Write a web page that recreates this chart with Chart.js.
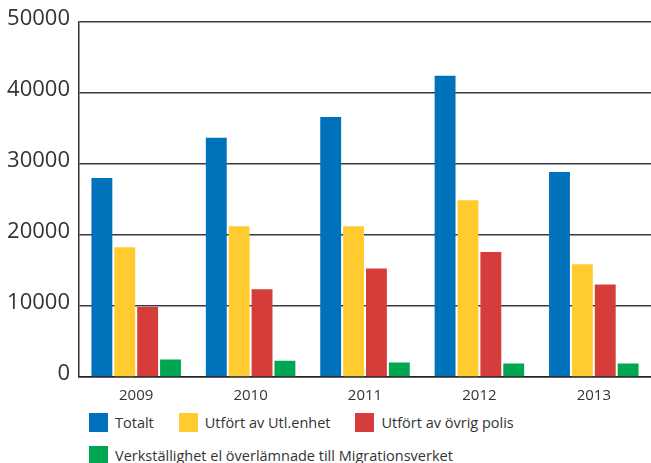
<!DOCTYPE html>
<html>
<head>
<meta charset="utf-8">
<script src="https://cdn.jsdelivr.net/npm/chart.js@4"></script>
<style>
  body { margin: 0; background: #fff; font-family: "Open Sans", sans-serif; }
  #wrap { position: relative; width: 651px; height: 407px; }
  #legend { position: absolute; left: 89px; top: 413px; color: #333; font-size: 14.5px; }
  .row { display: flex; align-items: center; height: 19px; margin-bottom: 14px; }
  .item { display: flex; align-items: center; margin-right: 25px; }
  .box { width: 19px; height: 19px; margin-right: 7px; }
</style>
</head>
<body>
<div id="wrap"><canvas id="deportChart"></canvas></div>
<div id="legend"></div>
<script>
const years = ['2009', '2010', '2011', '2012', '2013'];
const totalt = [28050, 33700, 36650, 42450, 28900];
const utlEnhet = [18300, 21250, 21250, 24900, 15900];
const ovrigPolis = [9850, 12350, 15300, 17600, 13050];
const migrationsverket = [2450, 2300, 2050, 1900, 1900];
const seriesNames = ['Totalt', 'Utfört av Utl.enhet', 'Utfört av övrig polis',
    'Verkställighet el överlämnade till Migrationsverket'];
const seriesColors = ['#0072bc', '#ffcb2f', '#d63c3a', '#00a651'];

const seriesData = [totalt, utlEnhet, ovrigPolis, migrationsverket];

const ctx = document.getElementById('deportChart').getContext('2d');
const deportChart = new Chart(ctx, {
    type: 'bar',
    data: {
        labels: years,
        datasets: seriesData.map((d, i) => ({
            label: seriesNames[i],
            data: d,
            backgroundColor: seriesColors[i],
            categoryPercentage: 0.8,
            barPercentage: 0.913
        }))
    },
    options: {
        responsive: true,
        maintainAspectRatio: false,
        animation: false,
        layout: { padding: { top: 16, right: 0, bottom: 0, left: 0 } },
        plugins: {
            legend: { display: false },
            tooltip: { enabled: false }
        },
        scales: {
            x: {
                grid: { display: false },
                border: { color: '#222', width: 1.5 },
                ticks: { color: '#333', font: { family: 'Open Sans', size: 15 }, padding: 2 }
            },
            y: {
                min: 0,
                max: 50000,
                afterFit: (scale) => { scale.width = 79; },
                grid: { color: '#3a3a3a', lineWidth: 1.5, drawTicks: false },
                border: { color: '#333', width: 1.5 },
                ticks: {
                    stepSize: 10000,
                    color: '#333',
                    padding: 9,
                    labelOffset: -3,
                    font: { family: 'Open Sans', size: 22 },
                    callback: (v) => String(v)
                }
            }
        }
    }
});

// HTML legend: first three in one row, the long one below
const legend = document.getElementById('legend');
[[0, 1, 2], [3]].forEach(idx => {
    const row = document.createElement('div');
    row.className = 'row';
    idx.forEach(i => {
        const item = document.createElement('div');
        item.className = 'item';
        item.innerHTML = '<span class="box" style="background:' + seriesColors[i] + '"></span>' + seriesNames[i];
        row.appendChild(item);
    });
    legend.appendChild(row);
});
</script>
</body>
</html>
